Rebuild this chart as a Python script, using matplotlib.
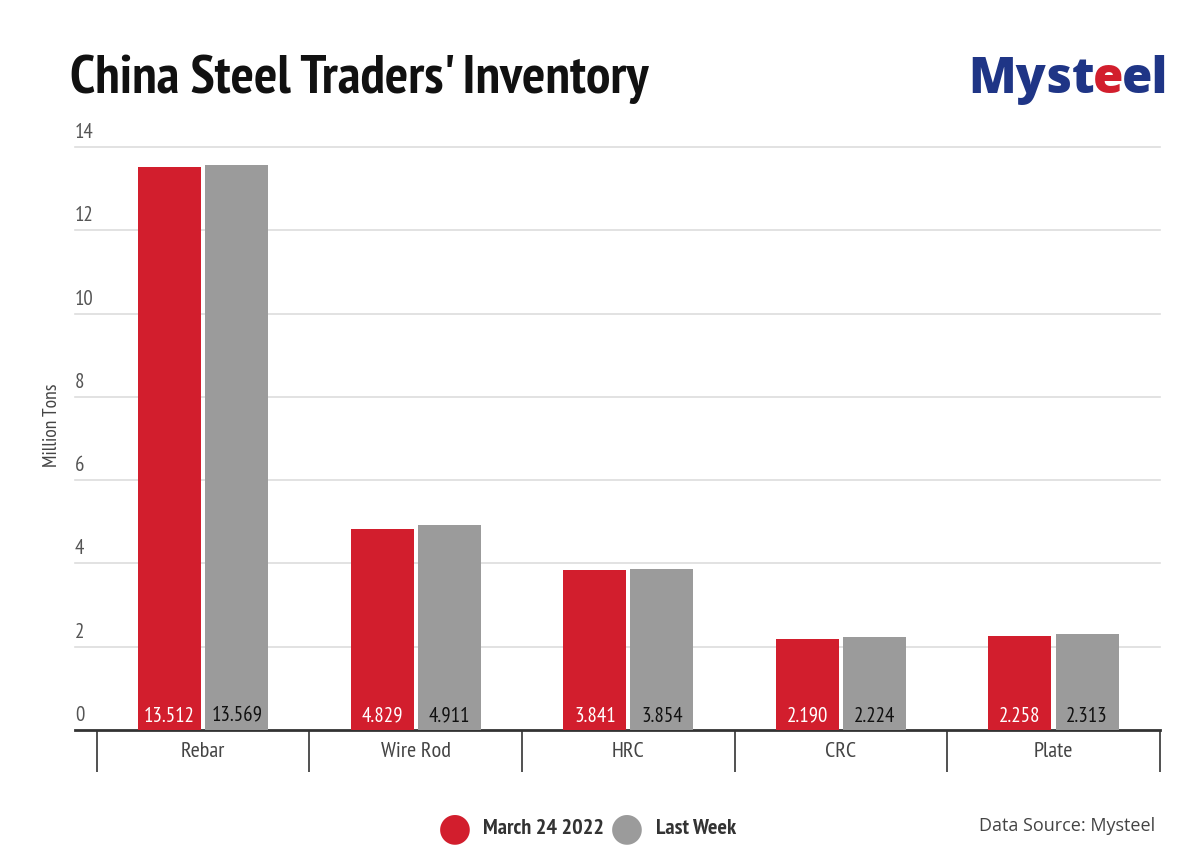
import matplotlib
matplotlib.use("Agg")
import matplotlib.pyplot as plt
import matplotlib.transforms as mtransforms
import numpy as np

categories = ["Rebar", "Wire Rod", "HRC", "CRC", "Plate"]
march_24 = [13.512, 4.829, 3.841, 2.190, 2.258]
last_week = [13.569, 4.911, 3.854, 2.224, 2.313]
y_ticks = [0, 2, 4, 6, 8, 10, 12, 14]
series_names = ["March 24 2022", "Last Week"]

RED = "#D21E2D"
GRAY = "#9B9B9B"
NAVY = "#1F3586"

plt.rcParams["font.family"] = ["PT Sans Narrow", "DejaVu Sans"]

fig = plt.figure(figsize=(12, 8.68), dpi=100)
ax = fig.add_axes([0.0625, 0.159, 0.904, 0.6717])

x = np.arange(len(categories))
w = 0.296
off = 0.158
ax.bar(x - off, march_24, width=w, color=RED, zorder=3)
ax.bar(x + off, last_week, width=w, color=GRAY, zorder=3)

# values sit at the foot of each bar
for xi, v in zip(x, march_24):
    ax.text(xi - off, 0.1, f"{v:.3f}", ha="center", va="bottom", color="white", fontsize=15, zorder=4)
for xi, v in zip(x, last_week):
    ax.text(xi + off, 0.1, f"{v:.3f}", ha="center", va="bottom", color="#111111", fontsize=15, zorder=4)

ax.set_xlim(-0.603, len(categories) - 0.5)
ax.set_ylim(0, 14)

for t in y_ticks[1:]:
    ax.axhline(t, color="#DDDDDD", linewidth=1.2, zorder=1, clip_on=False)
ytrans = mtransforms.blended_transform_factory(ax.transAxes, ax.transData)
for t in y_ticks:
    ax.text(0.0, t + 0.12, str(t), transform=ytrans, ha="left", va="bottom", fontsize=15, color="#555555")

for s in ["top", "right", "left"]:
    ax.spines[s].set_visible(False)
ax.spines["bottom"].set_color("#333333")
ax.spines["bottom"].set_linewidth(2)
ax.set_yticks([])
ax.set_xticks(x)
ax.set_xticklabels(categories, fontsize=16, color="#444444")
ax.tick_params(axis="x", length=0, pad=9)

xtrans = mtransforms.blended_transform_factory(ax.transData, ax.transAxes)
ax.vlines(np.arange(len(categories) + 1) - 0.5, -0.072, 0, transform=xtrans,
          color="#333333", linewidth=1.2, clip_on=False)

fig.text(0.043, 0.51, "Million Tons", rotation=90, ha="center", va="center", fontsize=14, color="#444444")

fig.text(0.058, 0.893, "China Steel Traders' Inventory", fontsize=39.5, fontweight="bold",
         color="#111111", ha="left", va="baseline")

# logo: "Myst" + red "e" + "el", laid out piece by piece
renderer = fig.canvas.get_renderer()
logo_parts = [("Myst", NAVY), ("e", RED), ("el", NAVY)]
logo_kw = dict(fontsize=35.5, fontweight=800, va="baseline", ha="left",
               family=["Open Sans", "DejaVu Sans"])
lx, lyb = 968 / 1200, 1 - 93 / 868
for part, col in logo_parts:
    t = fig.text(lx, lyb, part, color=col, **logo_kw)
    bb = t.get_window_extent(renderer)
    lx += bb.width / fig.bbox.width - 0.0012

# legend
ly = 1 - 828 / 868
fig.text(455 / 1200, ly, "\u25CF", color=RED, fontsize=28, ha="center", va="center",
         family=["DejaVu Sans"])
fig.text(483 / 1200, ly, series_names[0], fontsize=16, fontweight="bold", color="#333333",
         ha="left", va="center")
fig.text(627 / 1200, ly, "\u25CF", color=GRAY, fontsize=28, ha="center", va="center",
         family=["DejaVu Sans"])
fig.text(656 / 1200, ly, series_names[1], fontsize=16, fontweight="bold", color="#333333",
         ha="left", va="center")

fig.text(1155 / 1200, 1 - 826 / 868, "Data Source: Mysteel", fontsize=13, color="#444444",
         ha="right", va="center", family=["Open Sans", "DejaVu Sans"])

fig.savefig("out.png", dpi=100)
